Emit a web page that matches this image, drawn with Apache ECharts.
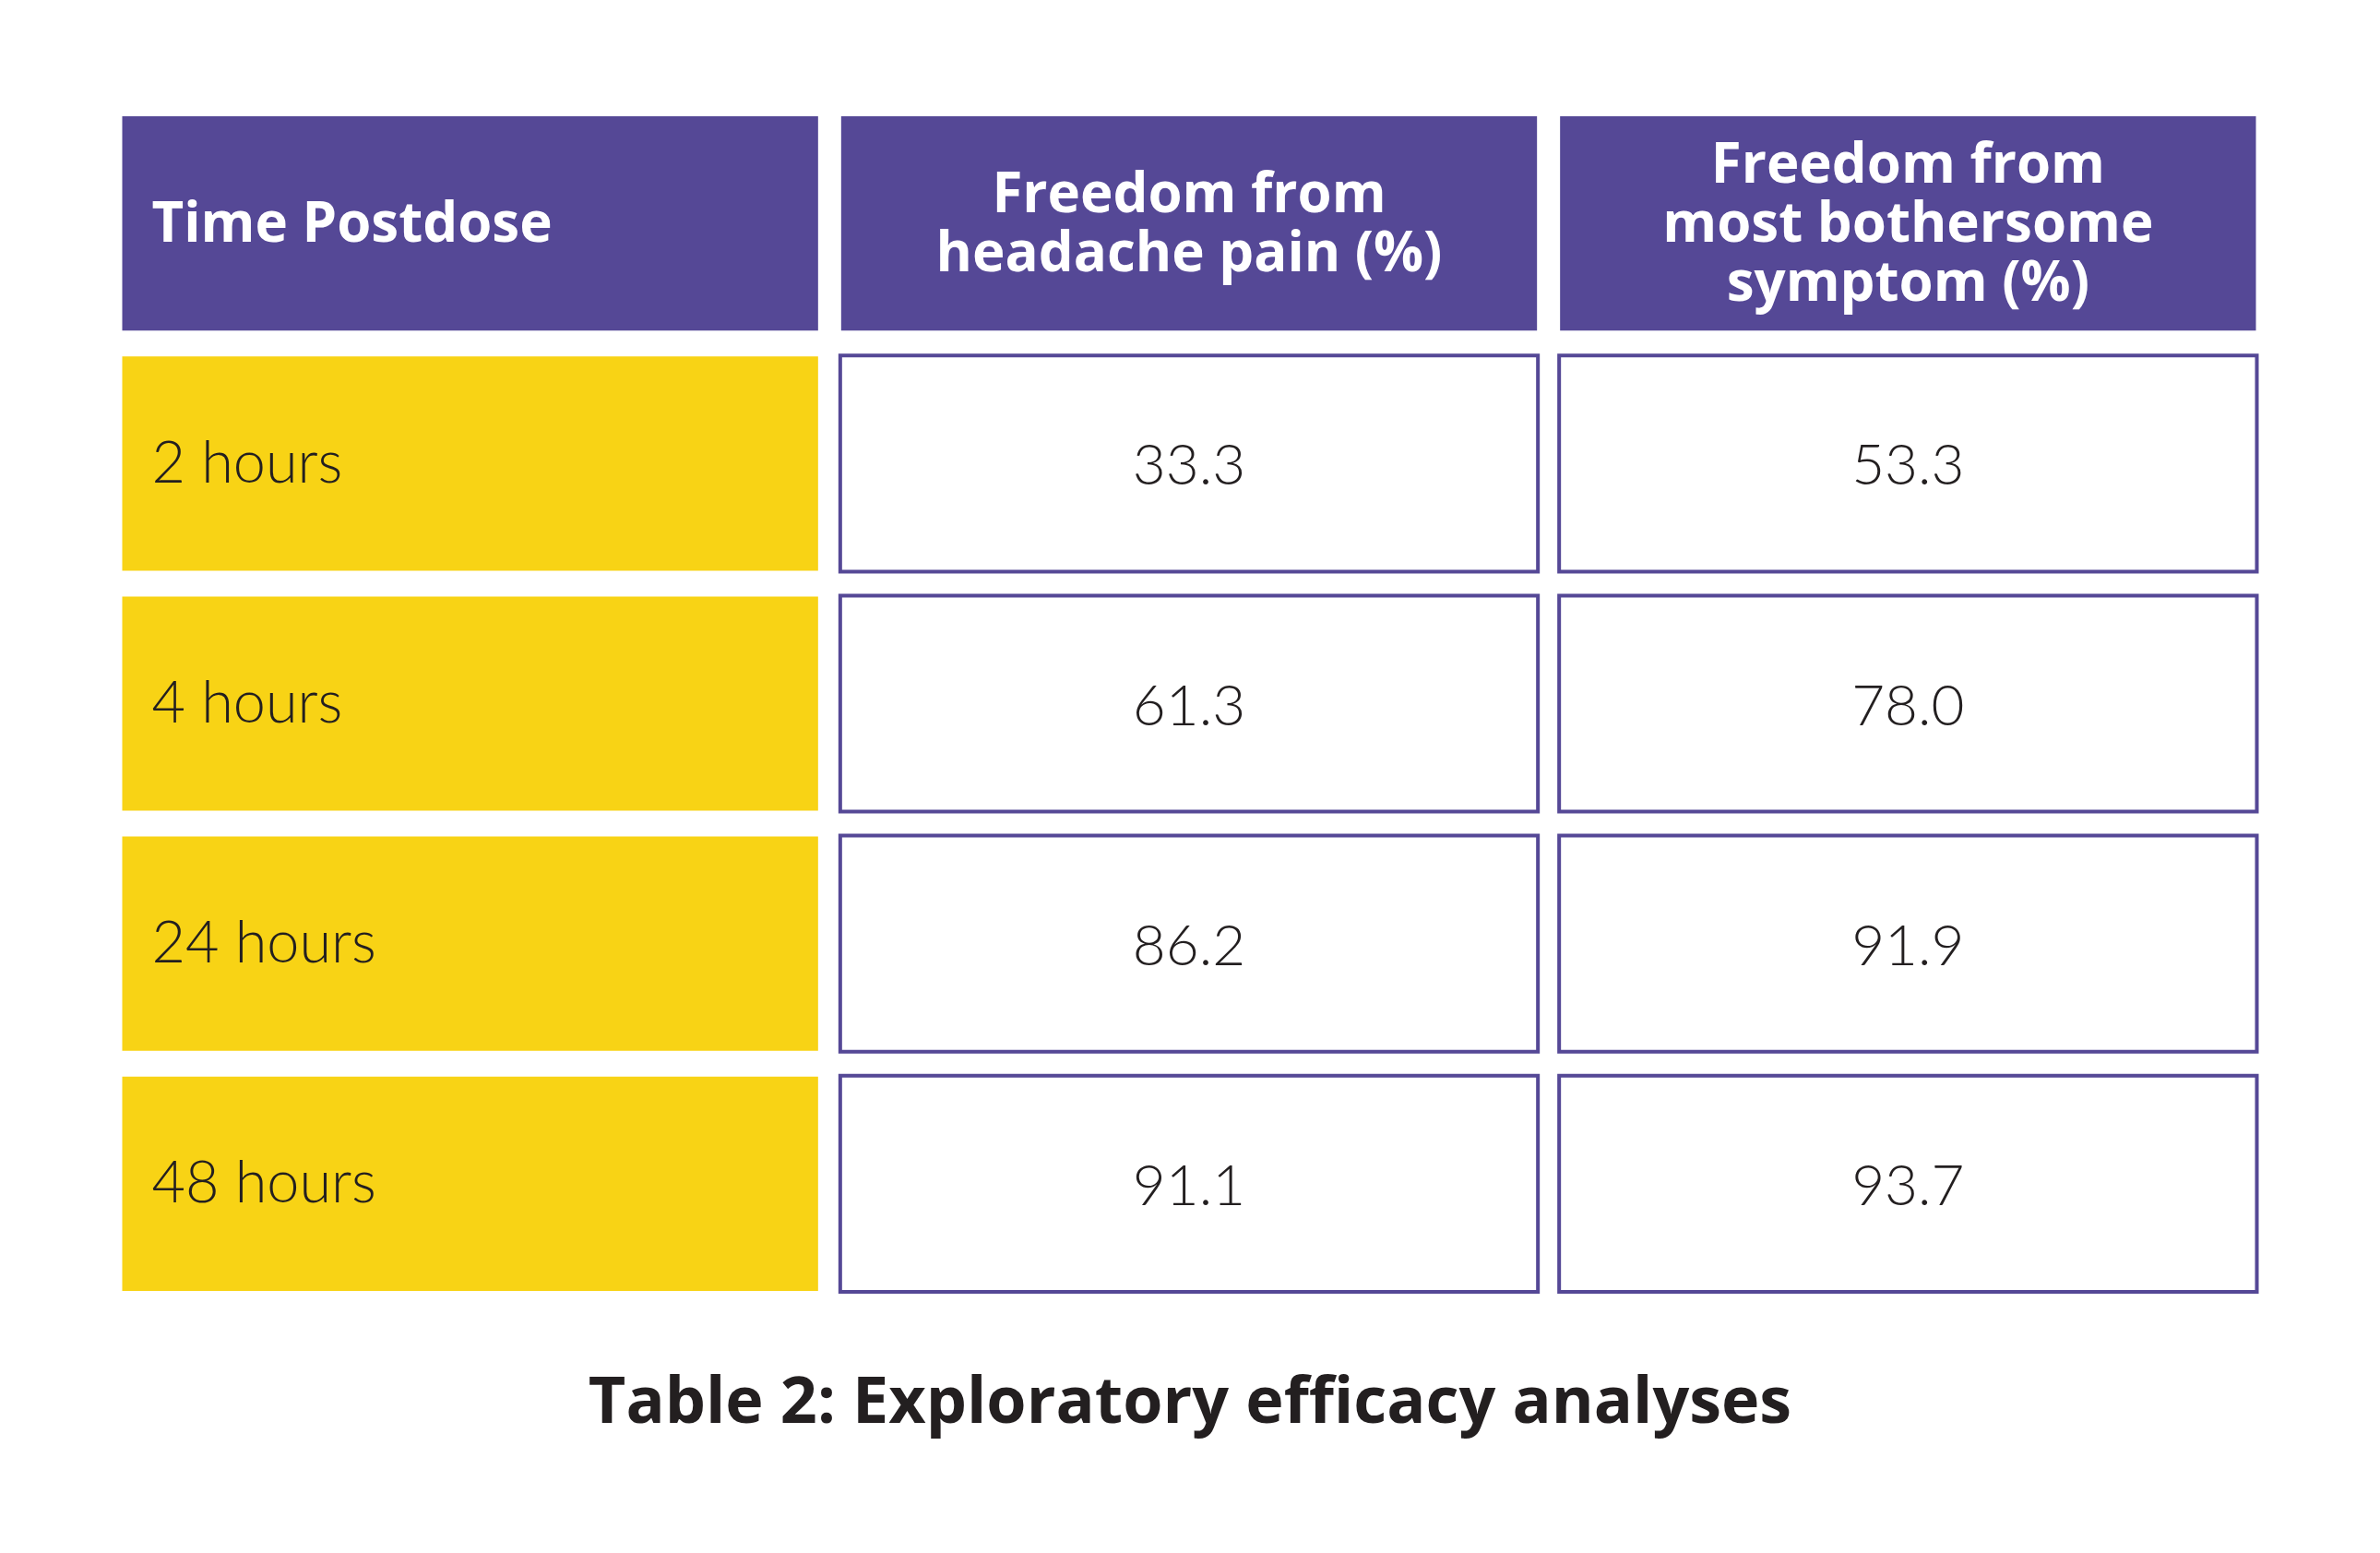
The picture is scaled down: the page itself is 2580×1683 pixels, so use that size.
<!DOCTYPE html>
<html>
<head>
<meta charset="utf-8">
<title>Table 2: Exploratory efficacy analyses</title>
<script src="https://cdn.jsdelivr.net/npm/echarts@6.0.0/dist/echarts.min.js"></script>
<style>
  html, body { margin: 0; padding: 0; background: #fff; }
  #chart { width: 2580px; height: 1683px; }
</style>
</head>
<body>
<div id="chart"></div>
<script>
// table content
const columnHeads = ['Time Postdose', 'Freedom from\nheadache pain (%)', 'Freedom from\nmost bothersome\nsymptom (%)']
const timePoints = ['2 hours', '4 hours', '24 hours', '48 hours']
const headachePain = [33.3, 61.3, 86.2, 91.1]
const bothersomeSymptom = [53.3, 78.0, 91.9, 93.7]
const caption = 'Table 2: Exploratory efficacy analyses'

const PURPLE = '#554896'
const YELLOW = '#F8D315'
const INK = '#231F20'
const FONT = 'Lato, "Open Sans", sans-serif'
const FONT_BOLD = '"Open Sans", Lato, sans-serif'

const rowKeys = ['head'].concat(timePoints)
const colKeys = ['time', 'pain', 'symptom']

// one data item per cell: [col, row]
const cells = []
rowKeys.forEach((r, ri) => {
  colKeys.forEach((c, ci) => {
    cells.push([ci, ri])
  })
})

function cellText (ci, ri) {
  if (ri === 0) return columnHeads[ci]
  const i = ri - 1
  if (ci === 0) return timePoints[i]
  if (ci === 1) return headachePain[i].toFixed(1)
  return bothersomeSymptom[i].toFixed(1)
}

function renderCell (params, api) {
  const ci = api.value(0)
  const ri = api.value(1)
  const center = api.coord([ci, ri])
  const band = api.size([1, 1])
  const w = band[0] - 25
  const h = band[1] - 28
  const x = center[0] - w / 2
  const y = center[1] - h / 2
  const text = cellText(ci, ri)

  let rect
  let textStyle
  let dy = 0
  if (ri === 0) {
    rect = { type: 'rect', shape: { x, y, width: w, height: h }, style: { fill: PURPLE } }
    textStyle = { fill: '#fff', fontFamily: FONT_BOLD, fontWeight: 'bold', fontSize: 60, lineHeight: 64 }
    dy = 3
  } else if (ci === 0) {
    rect = { type: 'rect', shape: { x, y, width: w, height: h }, style: { fill: YELLOW } }
    textStyle = { fill: INK, fontFamily: FONT, fontWeight: 300, fontSize: 63, lineHeight: 64 }
  } else {
    rect = {
      type: 'rect',
      shape: { x: x - 1, y: y - 1, width: w + 2, height: h + 2 },
      style: { fill: '#fff', stroke: PURPLE, lineWidth: 4 }
    }
    textStyle = { fill: INK, fontFamily: FONT, fontWeight: 300, fontSize: 62, lineHeight: 64 }
    dy = 3
  }

  const left = ci === 0
  const label = {
    type: 'text',
    style: Object.assign({
      text,
      x: left ? x + 32 : center[0],
      y: center[1] + dy,
      align: left ? 'left' : 'center',
      verticalAlign: 'middle'
    }, textStyle)
  }
  return { type: 'group', children: [rect, label] }
}

const chart = echarts.init(document.getElementById('chart'), null, { renderer: 'canvas' })

chart.setOption({
  backgroundColor: '#fff',
  animation: false,
  title: {
    text: caption,
    left: 'center',
    top: 1482,
    textStyle: { color: INK, fontFamily: FONT_BOLD, fontWeight: 'bold', fontSize: 70 }
  },
  grid: { left: 120, right: 122, top: 112, bottom: 270 },
  xAxis: {
    type: 'category',
    data: colKeys,
    show: false
  },
  yAxis: {
    type: 'category',
    data: rowKeys,
    inverse: true,
    show: false
  },
  series: [{
    type: 'custom',
    silent: true,
    renderItem: renderCell,
    data: cells
  }]
})
</script>
</body>
</html>
